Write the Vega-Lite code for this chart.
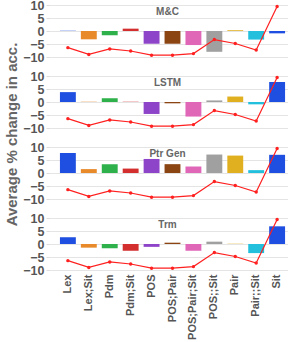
{
  "$schema": "https://vega.github.io/schema/vega-lite/v6.json",
  "padding": {"top": -1, "left": 4, "right": 2, "bottom": 0},
  "background": "white",
  "config": {
    "view": {"stroke": null},
    "font": "Liberation Sans",
    "axisY": {"domain": false, "tickColor": "#dddddd", "tickSize": 4, "gridColor": "#e4e4e4", "labelOverlap": false,
              "labelFontSize": 12.5, "labelFontWeight": "bold", "labelColor": "#555555", "labelPadding": 2, "labelFont": "Liberation Sans",
              "titleFontSize": 15, "titleFontWeight": "bold", "titleColor": "#666666", "titleFont": "Liberation Sans"},
    "axisX": {"labelAngle": 270, "domain": false, "ticks": false, "labelPadding": 4, "labelFontSize": 11, "labelFontWeight": "bold", "labelColor": "#555555", "labelFont": "Liberation Sans", "grid": false}
  },
  "data": {
    "values": [
      {"model": "M&C", "cat": "Lex", "val": 0.1, "line": -6.4},
      {"model": "M&C", "cat": "Lex;Sit", "val": -3.2, "line": -9.0},
      {"model": "M&C", "cat": "Pdm", "val": -1.6, "line": -6.9},
      {"model": "M&C", "cat": "Pdm;Sit", "val": 0.9, "line": -7.7},
      {"model": "M&C", "cat": "POS", "val": -4.9, "line": -9.3},
      {"model": "M&C", "cat": "POS;Pair", "val": -4.9, "line": -9.3},
      {"model": "M&C", "cat": "POS;Pair;Sit", "val": -5.4, "line": -8.7},
      {"model": "M&C", "cat": "POS;;Sit", "val": -8.0, "line": -3.3},
      {"model": "M&C", "cat": "Pair", "val": 0.3, "line": -4.8},
      {"model": "M&C", "cat": "Pair;;Sit", "val": -3.3, "line": -7.3},
      {"model": "M&C", "cat": "Sit", "val": -0.9, "line": 9.4},
      {"model": "LSTM", "cat": "Lex", "val": 3.8, "line": -6.4},
      {"model": "LSTM", "cat": "Lex;Sit", "val": 0.1, "line": -9.0},
      {"model": "LSTM", "cat": "Pdm", "val": 1.4, "line": -6.9},
      {"model": "LSTM", "cat": "Pdm;Sit", "val": 0.1, "line": -7.7},
      {"model": "LSTM", "cat": "POS", "val": -4.6, "line": -9.3},
      {"model": "LSTM", "cat": "POS;Pair", "val": -0.5, "line": -9.3},
      {"model": "LSTM", "cat": "POS;Pair;Sit", "val": -5.6, "line": -8.7},
      {"model": "LSTM", "cat": "POS;;Sit", "val": 0.6, "line": -3.3},
      {"model": "LSTM", "cat": "Pair", "val": 2.1, "line": -4.8},
      {"model": "LSTM", "cat": "Pair;;Sit", "val": -0.9, "line": -7.3},
      {"model": "LSTM", "cat": "Sit", "val": 7.7, "line": 9.4},
      {"model": "Ptr Gen", "cat": "Lex", "val": 7.7, "line": -6.4},
      {"model": "Ptr Gen", "cat": "Lex;Sit", "val": 1.5, "line": -9.0},
      {"model": "Ptr Gen", "cat": "Pdm", "val": 3.4, "line": -6.9},
      {"model": "Ptr Gen", "cat": "Pdm;Sit", "val": 1.7, "line": -7.7},
      {"model": "Ptr Gen", "cat": "POS", "val": 5.4, "line": -9.3},
      {"model": "Ptr Gen", "cat": "POS;Pair", "val": 3.4, "line": -9.3},
      {"model": "Ptr Gen", "cat": "POS;Pair;Sit", "val": 2.5, "line": -8.7},
      {"model": "Ptr Gen", "cat": "POS;;Sit", "val": 7.1, "line": -3.3},
      {"model": "Ptr Gen", "cat": "Pair", "val": 6.7, "line": -4.8},
      {"model": "Ptr Gen", "cat": "Pair;;Sit", "val": 1.1, "line": -7.3},
      {"model": "Ptr Gen", "cat": "Sit", "val": 7.0, "line": 9.4},
      {"model": "Trm", "cat": "Lex", "val": 2.6, "line": -6.4},
      {"model": "Trm", "cat": "Lex;Sit", "val": -1.4, "line": -9.0},
      {"model": "Trm", "cat": "Pdm", "val": -1.6, "line": -6.9},
      {"model": "Trm", "cat": "Pdm;Sit", "val": -2.6, "line": -7.7},
      {"model": "Trm", "cat": "POS", "val": -1.1, "line": -9.3},
      {"model": "Trm", "cat": "POS;Pair", "val": 0.5, "line": -9.3},
      {"model": "Trm", "cat": "POS;Pair;Sit", "val": -2.6, "line": -8.7},
      {"model": "Trm", "cat": "POS;;Sit", "val": 0.9, "line": -3.3},
      {"model": "Trm", "cat": "Pair", "val": 0.1, "line": -4.8},
      {"model": "Trm", "cat": "Pair;;Sit", "val": -3.5, "line": -7.3},
      {"model": "Trm", "cat": "Sit", "val": 6.8, "line": 9.4}
    ]
  },
  "spacing": 19,
  "bounds": "flush",
  "vconcat": [
    {
      "width": 245, "height": 52,
      "transform": [{"filter": "datum.model === 'M&C'"}],
      "encoding": {"x": {"field": "cat", "type": "nominal", "sort": ["Lex", "Lex;Sit", "Pdm", "Pdm;Sit", "POS", "POS;Pair", "POS;Pair;Sit", "POS;;Sit", "Pair", "Pair;;Sit", "Sit"], "scale": {"paddingInner": 0.24, "paddingOuter": 0.475}, "axis": null}},
      "layer": [
        {"mark": {"type": "bar"},
         "encoding": {
           "y": {"field": "val", "type": "quantitative", "scale": {"domain": [-10, 10], "nice": false}, "axis": {"title": null, "values": [-10, -5, 0, 5, 10], "labelOverlap": false}},
           "color": {"field": "cat", "type": "nominal", "legend": null, "scale": {"domain": ["Lex", "Lex;Sit", "Pdm", "Pdm;Sit", "POS", "POS;Pair", "POS;Pair;Sit", "POS;;Sit", "Pair", "Pair;;Sit", "Sit"], "range": ["#1f4fe0", "#e8892a", "#2eb04a", "#d32f2f", "#8e44c8", "#8b4513", "#e066b8", "#a0a0a0", "#e0b020", "#22c0dd", "#1f4fe0"]}}}},
        {"mark": {"type": "line", "color": "#ff2020", "strokeWidth": 1.2}, "encoding": {"y": {"field": "line", "type": "quantitative", "axis": {"title": null, "values": [-10, -5, 0, 5, 10], "labelOverlap": false}}}},
        {"mark": {"type": "point", "filled": true, "color": "#ff2020", "size": 12, "opacity": 1}, "encoding": {"y": {"field": "line", "type": "quantitative", "axis": {"title": null, "values": [-10, -5, 0, 5, 10], "labelOverlap": false}}}},
        {"transform": [{"filter": "datum.cat === 'POS;Pair'"}], "mark": {"type": "text", "fontSize": 10, "fontWeight": "bold", "color": "#666666", "dx": -5, "baseline": "middle"}, "encoding": {"y": {"datum": 7.5, "type": "quantitative", "axis": {"title": null, "values": [-10, -5, 0, 5, 10], "labelOverlap": false}}, "text": {"field": "model"}}}
      ]
    },
    {
      "width": 245, "height": 52,
      "transform": [{"filter": "datum.model === 'LSTM'"}],
      "encoding": {"x": {"field": "cat", "type": "nominal", "sort": ["Lex", "Lex;Sit", "Pdm", "Pdm;Sit", "POS", "POS;Pair", "POS;Pair;Sit", "POS;;Sit", "Pair", "Pair;;Sit", "Sit"], "scale": {"paddingInner": 0.24, "paddingOuter": 0.475}, "axis": null}},
      "layer": [
        {"mark": {"type": "bar"},
         "encoding": {
           "y": {"field": "val", "type": "quantitative", "scale": {"domain": [-10, 10], "nice": false}, "axis": {"title": "Average % change in acc.", "titleY": 58, "titlePadding": 3, "values": [-10, -5, 0, 5, 10], "labelOverlap": false}},
           "color": {"field": "cat", "type": "nominal", "legend": null, "scale": {"domain": ["Lex", "Lex;Sit", "Pdm", "Pdm;Sit", "POS", "POS;Pair", "POS;Pair;Sit", "POS;;Sit", "Pair", "Pair;;Sit", "Sit"], "range": ["#1f4fe0", "#e8892a", "#2eb04a", "#d32f2f", "#8e44c8", "#8b4513", "#e066b8", "#a0a0a0", "#e0b020", "#22c0dd", "#1f4fe0"]}}}},
        {"mark": {"type": "line", "color": "#ff2020", "strokeWidth": 1.2}, "encoding": {"y": {"field": "line", "type": "quantitative", "axis": {"title": "Average % change in acc.", "titleY": 58, "titlePadding": 3, "values": [-10, -5, 0, 5, 10], "labelOverlap": false}}}},
        {"mark": {"type": "point", "filled": true, "color": "#ff2020", "size": 12, "opacity": 1}, "encoding": {"y": {"field": "line", "type": "quantitative", "axis": {"title": "Average % change in acc.", "titleY": 58, "titlePadding": 3, "values": [-10, -5, 0, 5, 10], "labelOverlap": false}}}},
        {"transform": [{"filter": "datum.cat === 'POS;Pair'"}], "mark": {"type": "text", "fontSize": 10, "fontWeight": "bold", "color": "#666666", "dx": -5, "baseline": "middle"}, "encoding": {"y": {"datum": 7.5, "type": "quantitative", "axis": {"title": "Average % change in acc.", "titleY": 58, "titlePadding": 3, "values": [-10, -5, 0, 5, 10], "labelOverlap": false}}, "text": {"field": "model"}}}
      ]
    },
    {
      "width": 245, "height": 52,
      "transform": [{"filter": "datum.model === 'Ptr Gen'"}],
      "encoding": {"x": {"field": "cat", "type": "nominal", "sort": ["Lex", "Lex;Sit", "Pdm", "Pdm;Sit", "POS", "POS;Pair", "POS;Pair;Sit", "POS;;Sit", "Pair", "Pair;;Sit", "Sit"], "scale": {"paddingInner": 0.24, "paddingOuter": 0.475}, "axis": null}},
      "layer": [
        {"mark": {"type": "bar"},
         "encoding": {
           "y": {"field": "val", "type": "quantitative", "scale": {"domain": [-10, 10], "nice": false}, "axis": {"title": null, "values": [-10, -5, 0, 5, 10], "labelOverlap": false}},
           "color": {"field": "cat", "type": "nominal", "legend": null, "scale": {"domain": ["Lex", "Lex;Sit", "Pdm", "Pdm;Sit", "POS", "POS;Pair", "POS;Pair;Sit", "POS;;Sit", "Pair", "Pair;;Sit", "Sit"], "range": ["#1f4fe0", "#e8892a", "#2eb04a", "#d32f2f", "#8e44c8", "#8b4513", "#e066b8", "#a0a0a0", "#e0b020", "#22c0dd", "#1f4fe0"]}}}},
        {"mark": {"type": "line", "color": "#ff2020", "strokeWidth": 1.2}, "encoding": {"y": {"field": "line", "type": "quantitative", "axis": {"title": null, "values": [-10, -5, 0, 5, 10], "labelOverlap": false}}}},
        {"mark": {"type": "point", "filled": true, "color": "#ff2020", "size": 12, "opacity": 1}, "encoding": {"y": {"field": "line", "type": "quantitative", "axis": {"title": null, "values": [-10, -5, 0, 5, 10], "labelOverlap": false}}}},
        {"transform": [{"filter": "datum.cat === 'POS;Pair'"}], "mark": {"type": "text", "fontSize": 10, "fontWeight": "bold", "color": "#666666", "dx": -5, "baseline": "middle"}, "encoding": {"y": {"datum": 7.5, "type": "quantitative", "axis": {"title": null, "values": [-10, -5, 0, 5, 10], "labelOverlap": false}}, "text": {"field": "model"}}}
      ]
    },
    {
      "width": 245, "height": 52,
      "transform": [{"filter": "datum.model === 'Trm'"}],
      "encoding": {"x": {"field": "cat", "type": "nominal", "sort": ["Lex", "Lex;Sit", "Pdm", "Pdm;Sit", "POS", "POS;Pair", "POS;Pair;Sit", "POS;;Sit", "Pair", "Pair;;Sit", "Sit"], "scale": {"paddingInner": 0.24, "paddingOuter": 0.475}, "axis": {"title": null}}},
      "layer": [
        {"mark": {"type": "bar"},
         "encoding": {
           "y": {"field": "val", "type": "quantitative", "scale": {"domain": [-10, 10], "nice": false}, "axis": {"title": null, "values": [-10, -5, 0, 5, 10], "labelOverlap": false}},
           "color": {"field": "cat", "type": "nominal", "legend": null, "scale": {"domain": ["Lex", "Lex;Sit", "Pdm", "Pdm;Sit", "POS", "POS;Pair", "POS;Pair;Sit", "POS;;Sit", "Pair", "Pair;;Sit", "Sit"], "range": ["#1f4fe0", "#e8892a", "#2eb04a", "#d32f2f", "#8e44c8", "#8b4513", "#e066b8", "#a0a0a0", "#e0b020", "#22c0dd", "#1f4fe0"]}}}},
        {"mark": {"type": "line", "color": "#ff2020", "strokeWidth": 1.2}, "encoding": {"y": {"field": "line", "type": "quantitative", "axis": {"title": null, "values": [-10, -5, 0, 5, 10], "labelOverlap": false}}}},
        {"mark": {"type": "point", "filled": true, "color": "#ff2020", "size": 12, "opacity": 1}, "encoding": {"y": {"field": "line", "type": "quantitative", "axis": {"title": null, "values": [-10, -5, 0, 5, 10], "labelOverlap": false}}}},
        {"transform": [{"filter": "datum.cat === 'POS;Pair'"}], "mark": {"type": "text", "fontSize": 10, "fontWeight": "bold", "color": "#666666", "dx": -5, "baseline": "middle"}, "encoding": {"y": {"datum": 7.5, "type": "quantitative", "axis": {"title": null, "values": [-10, -5, 0, 5, 10], "labelOverlap": false}}, "text": {"field": "model"}}}
      ]
    }
  ]
}
